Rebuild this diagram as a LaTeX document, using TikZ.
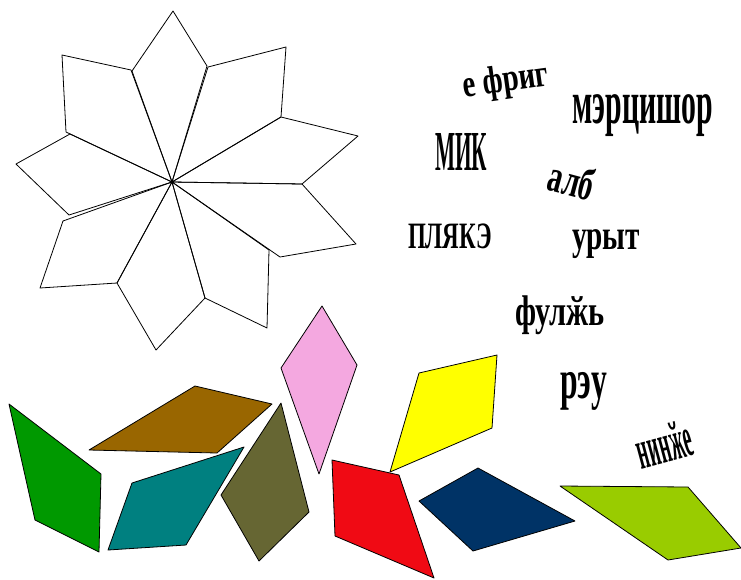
\documentclass[tikz,border=0pt]{standalone}
\usepackage{fontspec}
\setmainfont{Liberation Serif}
\usepackage{graphicx}
\definecolor{pinkp}{HTML}{F4A8E0}
\definecolor{brownp}{HTML}{996600}
\definecolor{greenp}{HTML}{009900}
\definecolor{tealp}{HTML}{008080}
\definecolor{olivep}{HTML}{666633}
\definecolor{redp}{HTML}{F00A14}
\definecolor{yellowp}{HTML}{FFFF00}
\definecolor{navyp}{HTML}{003366}
\definecolor{limep}{HTML}{99CC00}
\begin{document}
\begin{tikzpicture}[x=1pt, y=-1pt, line join=round,
    petal/.style={draw=black, line width=0.8pt},
    piece/.style={draw=black, line width=0.8pt},
    word/.style={inner sep=0pt, font=\bfseries}]
  \useasboundingbox (0,0) rectangle (741,579);
  % star of nine petals
  \coordinate (c) at (172,182);
  \foreach \ax/\ay/\bx/\by/\dx/\dy in {132/71/173/11/207/66, 208/67/286/47/281/117,
      281/117/358/136/302/184, 302/184/356/244/280/257, 269/250/267/328/205/298,
      205/298/156/350/117/283, 117/283/40/288/63/221, 69/215/16/164/70/134,
      66/132/62/55/131/70}
    \draw[petal] (c) -- (\ax,\ay) -- (\bx,\by) -- (\dx,\dy) -- cycle;
  % coloured pieces
  \foreach \col/\ax/\ay/\bx/\by/\cx/\cy/\dx/\dy in {pinkp/322/306/357/365/319/474/281/368,
      brownp/195/386/272/404/217/453/89/450, greenp/9/404/101/474/99/552/35/520,
      tealp/244/447/186/545/108/550/132/483, olivep/281/403/309/512/259/561/221/495,
      yellowp/419/373/497/355/492/428/390/472, redp/332/460/399/475/434/578/335/536,
      navyp/478/468/575/521/473/551/419/501, limep/560/486/688/487/741/548/668/560}
    \draw[piece, fill=\col] (\ax,\ay) -- (\bx,\by) -- (\cx,\cy) -- (\dx,\dy) -- cycle;
  % words
  \node[word, rotate=8] (efrig) at (506,82) {\resizebox*{86pt}{35pt}{е фриг}};
  \node[word] (martisor) at (642.5,116) {\resizebox*{141pt}{42pt}{мэрцишор}};
  \node[word] (mic) at (461,151.5) {\resizebox*{52pt}{37pt}{МИК}};
  \node[word, rotate=-15] (alb) at (572,180) {\resizebox*{46pt}{33pt}{алб}};
  \node[word] (placa) at (450,236) {\resizebox*{84pt}{25pt}{ПЛЯКЭ}};
  \node[word] (urit) at (606,244) {\resizebox*{68pt}{29pt}{урыт}};
  \node[word] (fulgi) at (560,315) {\resizebox*{90pt}{39pt}{фулӂь}};
  \node[word] (rau) at (583.5,391) {\resizebox*{47pt}{38pt}{рэу}};
  \node[word, rotate=15] (ninge) at (664,444) {\resizebox*{56pt}{38pt}{нинӂе}};
\end{tikzpicture}
\end{document}
